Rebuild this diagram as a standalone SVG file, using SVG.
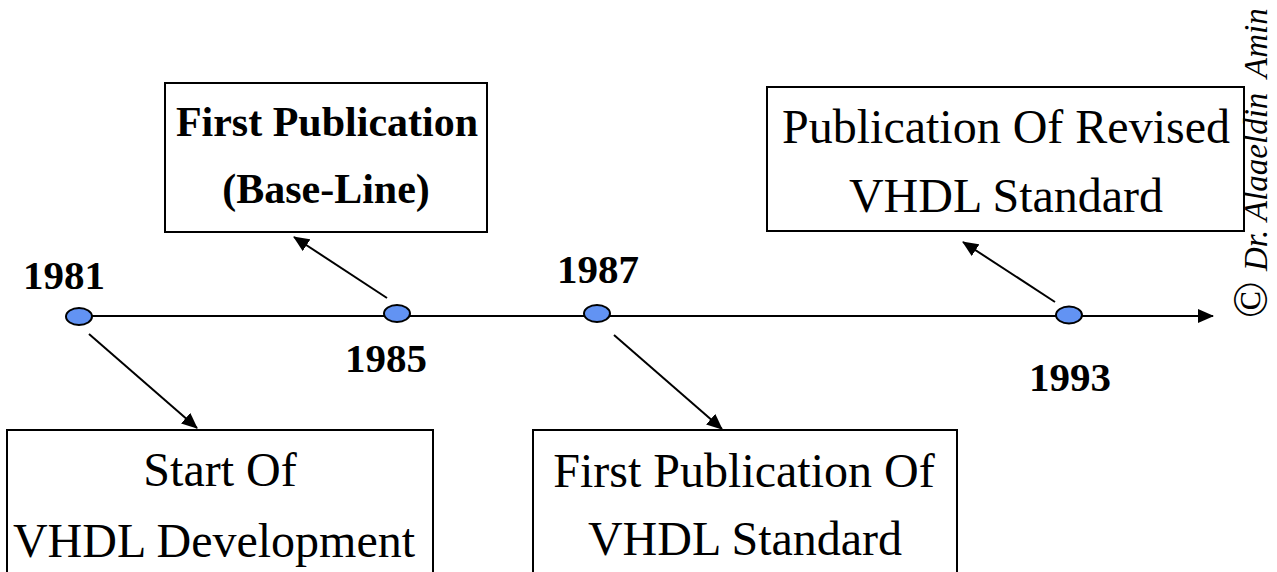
<svg xmlns="http://www.w3.org/2000/svg" width="1277" height="572" viewBox="0 0 1277 572">
  <style>
    .box { fill: #ffffff; stroke: #000000; stroke-width: 2; }
    .lbl { font-family: "Liberation Serif", "Times New Roman", serif; font-size: 48px; fill: #000000; text-anchor: middle; }
    .lblb { font-family: "Liberation Serif", "Times New Roman", serif; font-size: 42px; font-weight: bold; fill: #000000; text-anchor: middle; }
    .year { font-family: "Liberation Serif", "Times New Roman", serif; font-size: 41px; font-weight: bold; fill: #000000; text-anchor: middle; }
    .dot { fill: #6293f3; stroke: #000000; stroke-width: 2; }
    .link { stroke: #000000; stroke-width: 2; fill: none; marker-end: url(#ah); }
    .credit { font-family: "Liberation Serif", "Times New Roman", serif; font-size: 33px; font-style: italic; fill: #000000; }
  </style>
  <defs>
    <marker id="ah" markerWidth="16" markerHeight="14" refX="15" refY="7" orient="auto" markerUnits="userSpaceOnUse">
      <path d="M0,0 L16,7 L0,14 z" fill="#000000"/>
    </marker>
  </defs>

  <rect width="1277" height="572" fill="#ffffff"/>

  <!-- event boxes -->
  <g id="box-baseline">
    <rect class="box" x="165" y="83" width="322" height="149"/>
    <text class="lblb" x="327" y="136">First Publication</text>
    <text class="lblb" x="326" y="203">(Base-Line)</text>
  </g>
  <g id="box-revised">
    <rect class="box" x="767" y="87" width="477" height="144"/>
    <text class="lbl" x="1006" y="143">Publication Of Revised</text>
    <text class="lbl" x="1006" y="212">VHDL Standard</text>
  </g>
  <g id="box-start">
    <rect class="box" x="7" y="430" width="426" height="200"/>
    <text class="lbl" x="220" y="486">Start Of</text>
    <text class="lbl" x="214" y="557">VHDL Development</text>
  </g>
  <g id="box-standard">
    <rect class="box" x="533" y="430" width="424" height="200"/>
    <text class="lbl" x="744" y="487">First Publication Of</text>
    <text class="lbl" x="745" y="555">VHDL Standard</text>
  </g>

  <!-- timeline axis and pointers -->
  <g id="connectors">
    <line class="link" x1="79" y1="316" x2="1213" y2="316"/>
    <line class="link" x1="89" y1="334" x2="197" y2="428"/>
    <line class="link" x1="387" y1="298" x2="294" y2="237"/>
    <line class="link" x1="614" y1="335" x2="722" y2="429"/>
    <line class="link" x1="1055" y1="302" x2="963" y2="242"/>
  </g>

  <!-- milestones -->
  <g id="m1981">
    <ellipse class="dot" cx="79" cy="316.5" rx="13" ry="8.5"/>
    <text class="year" x="64" y="289">1981</text>
  </g>
  <g id="m1985">
    <ellipse class="dot" cx="397" cy="313.5" rx="13" ry="8.5"/>
    <text class="year" x="386" y="372">1985</text>
  </g>
  <g id="m1987">
    <ellipse class="dot" cx="597" cy="313.5" rx="13" ry="8.5"/>
    <text class="year" x="598" y="283">1987</text>
  </g>
  <g id="m1993">
    <ellipse class="dot" cx="1069" cy="315" rx="13" ry="8.5"/>
    <text class="year" x="1070" y="391">1993</text>
  </g>

  <!-- author credit, vertical -->
  <g id="credit" transform="translate(1267,0) rotate(-90)">
    <text class="credit" x="-318" y="0" style="font-style:normal;font-size:48px">©</text>
    <text class="credit" x="-271" y="0">Dr.</text>
    <text class="credit" x="-221" y="0">Alaaeldin</text>
    <text class="credit" x="-78" y="0">Amin</text>
  </g>
</svg>
